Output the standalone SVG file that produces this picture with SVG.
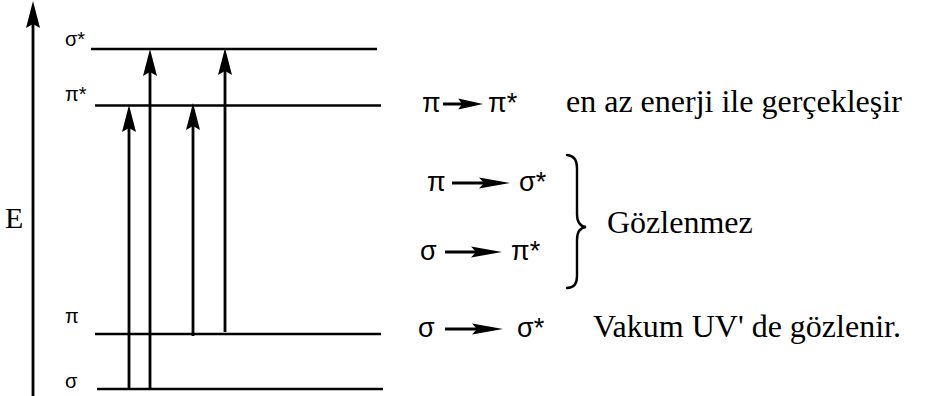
<svg xmlns="http://www.w3.org/2000/svg" xmlns:xlink="http://www.w3.org/1999/xlink" width="925" height="396" viewBox="0 0 925 396">
  <style>
    .lvl { stroke: #000; stroke-width: 2.6; fill: none; }
    .shaft { stroke: #000; stroke-width: 2.8; fill: none; }
    .hshaft { stroke: #000; stroke-width: 3; fill: none; }
    .greek { font-family: "Liberation Sans", Arial, sans-serif; fill: #000; }
    .small { font-size: 20px; }
    .mid { font-size: 27px; }
    .serif { font-family: "Liberation Serif", "Times New Roman", serif; font-size: 32px; fill: #000; }
    .brace { stroke: #000; stroke-width: 2.4; fill: none; stroke-linecap: round; }
  </style>
  <defs>
    <!-- upward arrowhead, tip at origin -->
    <path id="headUp" d="M0,0 L-7,27 L0,23 L7,27 Z" fill="#000"/>
    <!-- rightward arrowhead, tip at origin -->
    <path id="headRight" d="M0,0 L-31,-5.5 L-26,0 L-31,5.5 Z" fill="#000"/>
  </defs>

  <!-- energy axis -->
  <g id="axis">
    <line class="shaft" x1="33" y1="396" x2="33" y2="22"/>
    <use xlink:href="#headUp" x="33" y="1"/>
    <text class="serif" x="5" y="228" style="font-size:30px">E</text>
  </g>

  <!-- energy levels -->
  <g id="level-sigma-star">
    <line class="lvl" x1="91" y1="49" x2="377" y2="49"/>
    <text class="greek small" x="65" y="46">σ*</text>
  </g>
  <g id="level-pi-star">
    <line class="lvl" x1="95" y1="105.5" x2="381" y2="105.5"/>
    <text class="greek small" x="65" y="101">π*</text>
  </g>
  <g id="level-pi">
    <line class="lvl" x1="95" y1="334" x2="381" y2="334"/>
    <text class="greek small" x="65" y="323">π</text>
  </g>
  <g id="level-sigma">
    <line class="lvl" x1="97" y1="389" x2="383" y2="389"/>
    <text class="greek small" x="65" y="388">σ</text>
  </g>

  <!-- transitions between levels -->
  <g id="connectors">
    <line class="shaft" x1="129" y1="389" x2="129" y2="125"/>
    <use xlink:href="#headUp" x="129" y="105"/>
    <line class="shaft" x1="150" y1="389" x2="150" y2="70"/>
    <use xlink:href="#headUp" x="150" y="49"/>
    <line class="shaft" x1="193" y1="336" x2="193" y2="123"/>
    <use xlink:href="#headUp" x="193" y="103"/>
    <line class="shaft" x1="225" y1="332" x2="225" y2="68"/>
    <use xlink:href="#headUp" x="225" y="48"/>
  </g>

  <!-- transition list -->
  <g id="row-pi-pistar">
    <text class="greek mid" x="422" y="112">π</text>
    <line class="hshaft" x1="443" y1="104" x2="465" y2="104"/>
    <use xlink:href="#headRight" transform="translate(483,104) scale(0.8,1)"/>
    <text class="greek mid" x="488" y="112">π*</text>
    <text class="serif" x="566" y="112">en az enerji ile gerçekleşir</text>
  </g>
  <g id="row-pi-sigmastar">
    <text class="greek mid" x="427" y="191">π</text>
    <line class="hshaft" x1="452" y1="183" x2="486" y2="183"/>
    <use xlink:href="#headRight" x="510" y="183"/>
    <text class="greek mid" x="519" y="191">σ*</text>
  </g>
  <g id="row-sigma-pistar">
    <text class="greek mid" x="420" y="260">σ</text>
    <line class="hshaft" x1="445" y1="252" x2="478" y2="252"/>
    <use xlink:href="#headRight" x="502" y="252"/>
    <text class="greek mid" x="511" y="260">π*</text>
  </g>
  <g id="row-sigma-sigmastar">
    <text class="greek mid" x="418" y="337">σ</text>
    <line class="hshaft" x1="445" y1="329" x2="479" y2="329"/>
    <use xlink:href="#headRight" x="503" y="329"/>
    <text class="greek mid" x="517" y="337">σ*</text>
    <text class="serif" x="593" y="337">Vakum UV' de gözlenir.</text>
  </g>

  <!-- grouping brace -->
  <g id="brace-group">
    <path class="brace" d="M567,155 Q577,156 577,168 L577,214 Q577,226 586,227 Q577,228 577,240 L577,276 Q577,288 567,288"/>
    <text class="serif" x="607" y="233">Gözlenmez</text>
  </g>
</svg>
